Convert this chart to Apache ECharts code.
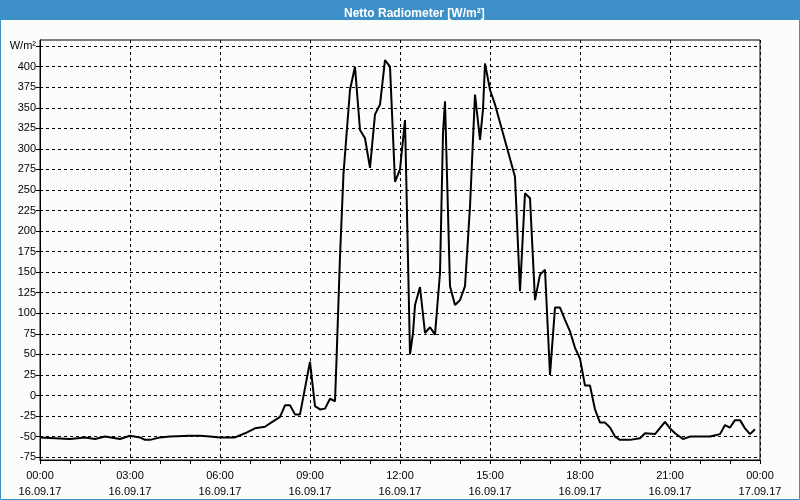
<!DOCTYPE html>
<html>
<head>
<meta charset="utf-8">
<script src="https://cdn.jsdelivr.net/npm/echarts@6/dist/echarts.min.js"></script>
<style>
html,body{margin:0;padding:0;background:#fbfdfb;}
#chart{width:800px;height:500px;}
</style>
</head>
<body>
<div id="chart"></div>
<script>
// ---- data ----
const chartTitle = 'Netto Radiometer [W/m²]';
const yUnit = 'W/m²';
const times = [
 '00:00','01:00','01:30','01:50','02:10','02:40','03:00','03:20','03:30','03:40','04:00','04:20','05:00','05:20','05:40','06:00','06:30',
 '06:50','07:10','07:30','07:40','08:00','08:10','08:20','08:30','08:40','09:00','09:10','09:20','09:30','09:40','09:50',
 '09:53','10:00','10:07','10:20','10:30','10:40','10:50','11:00','11:10','11:20','11:30','11:40','11:50','12:00','12:10',
 '12:16','12:20','12:26','12:30','12:40','12:50','13:00','13:10','13:20','13:26','13:30','13:40','13:50','14:00','14:10',
 '14:20','14:30','14:40','14:46','14:50','15:00','15:10','15:50','16:00','16:10','16:20','16:30','16:40','16:50','17:00',
 '17:10','17:20','17:30','17:40','17:50','18:00','18:10','18:20','18:30','18:40','18:50','19:00','19:10','19:20','19:40',
 '20:00','20:10','20:30','20:50','21:00','21:10','21:26','21:40','22:20','22:40','22:50','23:00','23:10','23:20','23:30',
 '23:40','23:50'
];
const values = [
 -51,-53,-51,-53,-50,-53,-49,-51,-54,-54,-51,-50,-49,-49,-50,-51,-51,
 -46,-40,-38,-34,-26,-12,-12,-23,-23,41,-13,-17,-16,-4,-7,
 43,169,270,372,400,323,313,277,342,354,408,400,260,275,335,
 165,50,76,110,132,76,83,74,149,319,358,133,110,116,133,
 230,366,311,348,404,372,354,266,127,246,240,116,147,153,25,
 107,107,92,78,58,45,12,12,-17,-33,-33,-39,-50,-54,-54,
 -52,-46,-47,-32,-40,-46,-53,-50,-50,-47,-36,-39,-30,-30,-40,
 -47,-41
];
const yTicks = [-75,-50,-25,0,25,50,75,100,125,150,175,200,225,250,275,300,325,350,375,400,425];
const xTickTimes = ['00:00','03:00','06:00','09:00','12:00','15:00','18:00','21:00','00:00'];
const xTickDates = ['16.09.17','16.09.17','16.09.17','16.09.17','16.09.17','16.09.17','16.09.17','16.09.17','17.09.17'];

// ---- build ----
function toHours(t){const p=t.split(':');return (+p[0])+(+p[1])/60;}
const seriesData = times.map((t,i)=>[toHours(t), values[i]]);
const FONT = 'Liberation Sans';

const chart = echarts.init(document.getElementById('chart'), null, {renderer:'canvas'});
chart.setOption({
  backgroundColor:'#fbfdfb',
  animation:false,
  title:{
    text: chartTitle, left: 339, top: 3,
    textStyle:{color:'#ffffff', fontFamily:FONT, fontSize:12, fontWeight:'bold'}
  },
  graphic:[
    {type:'rect', z:-1, shape:{x:0,y:0,width:800,height:20}, style:{fill:'#3c8fc7'}},
    {type:'rect', z:100, shape:{x:0.5,y:0.5,width:799,height:499}, style:{fill:null, stroke:'#3c8fc7', lineWidth:1}}
  ],
  grid:{left:40, right:40, top:40, bottom:40, show:true, borderColor:'#000', borderWidth:1, backgroundColor:'transparent'},
  xAxis:{
    type:'value', min:0, max:24, interval:3,
    axisLine:{show:true, onZero:false, lineStyle:{color:'#000', width:1}},
    axisTick:{show:true, length:4, lineStyle:{color:'#000'}},
    minorTick:{show:true, splitNumber:3, length:4, lineStyle:{color:'#000'}},
    splitLine:{show:true, lineStyle:{color:'#000', type:[3,3], width:1}},
    axisLabel:{
      color:'#000', fontFamily:FONT, fontSize:11, margin:8, lineHeight:16,
      formatter:(v)=>{const i=Math.round(v/3);return xTickTimes[i]+'\n'+xTickDates[i];}
    }
  },
  yAxis:{
    type:'value', min:-78.5, max:432.5,
    axisLine:{show:true, onZero:false, lineStyle:{color:'#000', width:1}},
    axisTick:{show:true, length:4, customValues:yTicks, lineStyle:{color:'#000'}},
    splitLine:{show:true, lineStyle:{color:'#000', type:[3,3], width:1}},
    axisLabel:{
      customValues:yTicks, color:'#000', fontFamily:FONT, fontSize:11, margin:4,
      formatter:(v)=> v===425 ? yUnit : String(v)
    }
  },
  series:[{
    type:'line', data:seriesData, showSymbol:false, symbol:'none',
    lineStyle:{color:'#000', width:2}, z:5
  }]
});
</script>
</body>
</html>
